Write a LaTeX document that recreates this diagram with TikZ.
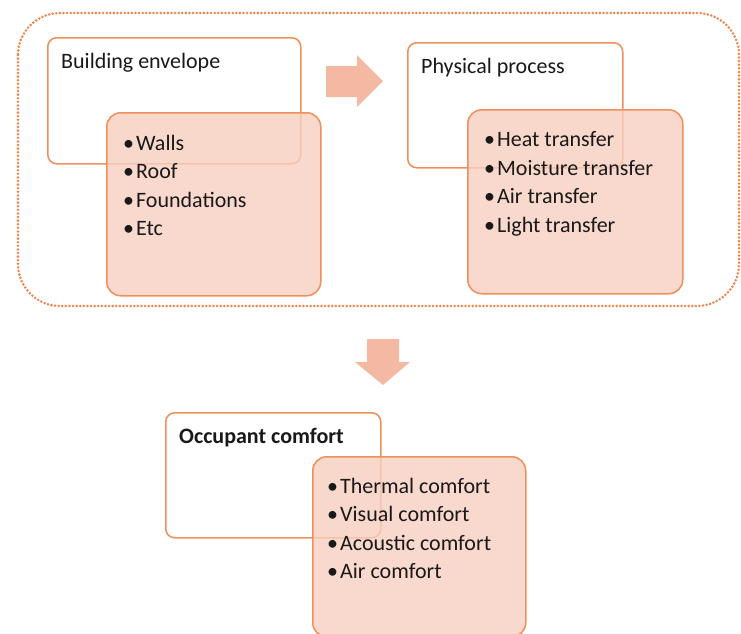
\documentclass[tikz,border=0pt]{standalone}
\usepackage{fontspec}
\setmainfont{Carlito}
\definecolor{boxline}{HTML}{EE8F5C}
\definecolor{boxfill}{HTML}{F8CFC0}
\definecolor{arrowfill}{HTML}{F4B9A3}
\definecolor{dotline}{HTML}{EE8447}
\tikzset{
  titlebox/.style={draw=boxline, line width=1.5pt, fill=white, rounded corners=9pt,
    anchor=north west, inner sep=0pt},
  listbox/.style={draw=boxline, line width=1.5pt, fill=boxfill, fill opacity=0.8,
    rounded corners=14pt, anchor=north west, inner sep=0pt},
  boxtitle/.style={anchor=base west, inner sep=0pt, text=black!90},
  item/.style={anchor=base west, inner sep=0pt, text=black!90}
}
\begin{document}
\begin{tikzpicture}[x=1pt, y=-1pt, font=\fontsize{22}{28}\selectfont]
        \useasboundingbox (0,0) rectangle (741,633);

        % Dotted frame round envelope and process
        \draw[dotline, line width=2.8pt, dash pattern=on 0pt off 3.6pt, line cap=round,
              rounded corners=42pt] (18,13) rectangle (739,306);

        % Building envelope
        \node[titlebox, minimum width=253, minimum height=126] (envbox) at (47,37) {};
        \node[boxtitle] (envtitle) at (61,68) {Building envelope};
        \node[listbox, minimum width=214, minimum height=183] (envlist) at (106,112) {};
        \node[item] (env1) at (123,150) {\textbullet\hspace{2pt}Walls};
        \node[item] (env2) at (123,178.5) {\textbullet\hspace{2pt}Roof};
        \node[item] (env3) at (123,207) {\textbullet\hspace{2pt}Foundations};
        \node[item] (env4) at (123,235.5) {\textbullet\hspace{2pt}Etc};

        % Physical process
        \node[titlebox, minimum width=215, minimum height=125] (procbox) at (407,42) {};
        \node[boxtitle] (proctitle) at (421,73) {Physical process};
        \node[listbox, minimum width=215, minimum height=184] (proclist) at (467,109) {};
        \node[item] (proc1) at (484,146.5) {\textbullet\hspace{2pt}Heat transfer};
        \node[item] (proc2) at (484,175) {\textbullet\hspace{2pt}Moisture transfer};
        \node[item] (proc3) at (484,203.5) {\textbullet\hspace{2pt}Air transfer};
        \node[item] (proc4) at (484,232) {\textbullet\hspace{2pt}Light transfer};

        % Occupant comfort
        \node[titlebox, minimum width=215, minimum height=125] (compbox) at (165,412) {};
        \node[boxtitle, font=\fontsize{22}{28}\selectfont\bfseries] (comptitle) at (179,443) {Occupant comfort};
        \node[listbox, minimum width=213, minimum height=180] (complist) at (312,456) {};
        \node[item] (comp1) at (327,493) {\textbullet\hspace{2pt}Thermal comfort};
        \node[item] (comp2) at (327,521.5) {\textbullet\hspace{2pt}Visual comfort};
        \node[item] (comp3) at (327,550) {\textbullet\hspace{2pt}Acoustic comfort};
        \node[item] (comp4) at (327,578.5) {\textbullet\hspace{2pt}Air comfort};

        % Block arrows
        \fill[arrowfill] (326,66) -- (357,66) -- (357,55) -- (383,81) -- (357,107)
              -- (357,97) -- (326,97) -- cycle;
        \fill[arrowfill] (367,339) -- (399,339) -- (399,362) -- (410,362) -- (383,385)
              -- (355,362) -- (367,362) -- cycle;
    \end{tikzpicture}
\end{document}
